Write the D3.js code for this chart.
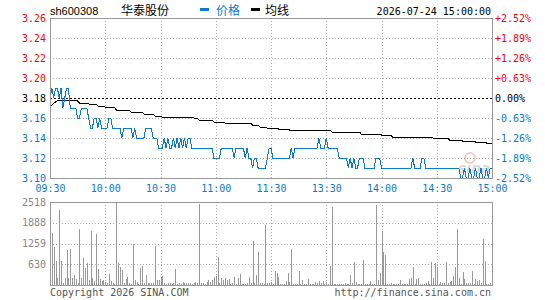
<!DOCTYPE html>
<html>
<head>
<meta charset="utf-8">
<script src="https://cdn.jsdelivr.net/npm/d3@7/dist/d3.min.js"></script>
<style>
  body { margin: 0; background: #fff; }
  svg { display: block; }
  .mono { font-family: "DejaVu Sans Mono", monospace; font-size: 10px; }
</style>
</head>
<body>
<div id="chart"></div>
<script>
// stock info
const stockCode = "sh600308";
const stockName = "华泰股份";
const stamp = "2026-07-24 15:00:00";
const prevClose = 3.18;

// minute axis labels (0..240 minutes of trading)
const timeTicks = [0, 30, 60, 90, 120, 150, 180, 210, 240];
const timeLabels = ["09:30", "10:00", "10:30", "11:00", "11:30", "13:30", "14:00", "14:30", "15:00"];

// price axis
const priceTicks = [3.10, 3.12, 3.14, 3.16, 3.18, 3.20, 3.22, 3.24, 3.26];
const pctLabels = ["-2.52%", "-1.89%", "-1.26%", "-0.63%", "0.00%", "+0.63%", "+1.26%", "+1.89%", "+2.52%"];

// volume axis
const volTicks = [630, 1259, 1888, 2518];

// price per minute
const price = [
  3.18,3.19,3.18,3.19,3.19,3.18,3.19,3.17,3.18,3.19,
  3.19,3.17,3.17,3.17,3.17,3.16,3.16,3.17,3.17,3.17,
  3.17,3.16,3.15,3.15,3.16,3.16,3.15,3.16,3.15,3.15,
  3.15,3.15,3.16,3.16,3.15,3.15,3.15,3.15,3.15,3.14,
  3.15,3.15,3.15,3.15,3.15,3.14,3.15,3.14,3.14,3.14,
  3.14,3.14,3.15,3.15,3.15,3.15,3.14,3.14,3.14,3.13,
  3.13,3.13,3.14,3.13,3.14,3.13,3.13,3.14,3.13,3.14,
  3.13,3.14,3.13,3.14,3.13,3.14,3.14,3.13,3.13,3.13,
  3.13,3.13,3.13,3.13,3.13,3.13,3.13,3.13,3.13,3.12,
  3.12,3.12,3.12,3.13,3.13,3.13,3.13,3.13,3.13,3.13,
  3.12,3.13,3.13,3.13,3.13,3.13,3.12,3.13,3.12,3.12,
  3.11,3.12,3.12,3.11,3.11,3.11,3.11,3.11,3.12,3.13,
  3.13,3.12,3.12,3.12,3.12,3.12,3.12,3.12,3.12,3.12,
  3.12,3.13,3.12,3.13,3.13,3.13,3.13,3.13,3.13,3.13,
  3.13,3.13,3.13,3.13,3.13,3.13,3.14,3.13,3.13,3.13,
  3.14,3.13,3.13,3.13,3.13,3.13,3.13,3.12,3.12,3.12,
  3.12,3.12,3.11,3.12,3.11,3.12,3.11,3.11,3.12,3.12,
  3.12,3.11,3.11,3.11,3.11,3.11,3.11,3.12,3.12,3.12,
  3.11,3.11,3.11,3.11,3.11,3.11,3.11,3.11,3.11,3.11,
  3.11,3.11,3.11,3.11,3.11,3.11,3.11,3.12,3.11,3.11,
  3.11,3.11,3.12,3.12,3.11,3.11,3.11,3.11,3.11,3.11,
  3.11,3.11,3.11,3.11,3.11,3.11,3.11,3.11,3.11,3.11,
  3.11,3.11,3.11,3.10,3.10,3.11,3.10,3.10,3.11,3.10,
  3.10,3.11,3.10,3.10,3.11,3.10,3.10,3.11,3.10,3.11,
  3.11
];

// average price per minute
const avgPrice = [
  3.170,3.173,3.175,3.176,3.177,3.178,3.178,3.178,3.178,3.178,
  3.178,3.178,3.178,3.178,3.178,3.177,3.175,3.175,3.175,3.175,
  3.175,3.174,3.174,3.174,3.174,3.174,3.172,3.172,3.172,3.172,
  3.171,3.171,3.171,3.171,3.171,3.171,3.168,3.168,3.168,3.168,
  3.168,3.168,3.168,3.168,3.166,3.166,3.166,3.166,3.166,3.166,
  3.166,3.164,3.164,3.164,3.164,3.164,3.164,3.162,3.162,3.162,
  3.162,3.161,3.161,3.161,3.161,3.161,3.161,3.161,3.161,3.161,
  3.161,3.161,3.161,3.161,3.161,3.161,3.161,3.161,3.160,3.160,
  3.160,3.158,3.158,3.158,3.158,3.158,3.158,3.158,3.158,3.156,
  3.156,3.156,3.156,3.156,3.156,3.155,3.155,3.155,3.155,3.155,
  3.155,3.155,3.155,3.155,3.155,3.155,3.155,3.155,3.155,3.155,
  3.153,3.153,3.153,3.153,3.151,3.151,3.151,3.151,3.150,3.150,
  3.150,3.150,3.150,3.150,3.149,3.149,3.149,3.149,3.149,3.149,
  3.148,3.148,3.148,3.148,3.148,3.148,3.148,3.148,3.148,3.148,
  3.148,3.148,3.148,3.148,3.148,3.148,3.148,3.148,3.148,3.148,
  3.148,3.148,3.148,3.146,3.146,3.146,3.146,3.146,3.146,3.146,
  3.146,3.146,3.146,3.146,3.146,3.146,3.146,3.146,3.146,3.144,
  3.144,3.144,3.144,3.144,3.144,3.144,3.144,3.144,3.144,3.144,
  3.143,3.143,3.143,3.143,3.143,3.143,3.141,3.141,3.141,3.141,
  3.141,3.141,3.141,3.141,3.141,3.141,3.141,3.141,3.141,3.141,
  3.141,3.141,3.141,3.141,3.141,3.141,3.141,3.141,3.140,3.140,
  3.140,3.140,3.140,3.140,3.140,3.140,3.140,3.138,3.138,3.138,
  3.138,3.138,3.138,3.138,3.137,3.137,3.137,3.137,3.137,3.137,
  3.137,3.136,3.136,3.136,3.136,3.136,3.136,3.135,3.135,3.135,
  3.135
];

// volume per minute (lots)
const volume = [
  755,1581,1158,735,201,2266,735,50,201,1057,
  201,1088,201,302,171,50,1692,201,816,524,
  655,151,1631,201,131,1561,483,171,131,151,
  100,50,332,131,70,40,2518,675,554,453,
  70,171,232,70,40,1259,151,100,40,524,
  574,70,302,50,50,70,50,1188,151,151,
  232,272,50,40,60,50,40,60,483,40,
  50,40,80,60,50,70,60,40,60,90,
  50,2447,50,60,40,80,151,100,151,232,
  272,856,60,201,151,201,151,171,40,50,
  232,40,201,332,40,30,40,50,232,60,
  1339,50,302,1007,50,50,30,1813,50,50,
  80,40,423,352,232,30,30,30,121,352,
  100,1088,30,30,40,423,30,151,30,30,
  171,30,30,40,100,50,121,70,131,30,
  100,30,574,2367,30,30,30,40,30,30,
  50,30,40,302,70,705,90,30,30,40,
  755,30,40,30,121,30,40,2417,151,373,
  1631,1007,906,30,30,50,30,40,30,30,
  151,30,30,30,30,171,201,554,40,171,
  201,40,30,30,50,121,30,705,222,655,
  554,30,100,60,70,705,60,100,121,272,
  554,1692,222,40,403,171,70,50,70,423,
  30,171,131,151,60,1410,725,30,40,50,
  60
];

const W = 545, H = 300;
const left = 50, right = 492;
const pTop = 18, pBottom = 178;
const vTop = 202, vBottom = 285;

const blue = "#0a7ad2", red = "#ff0000", grid = "#aaaaaa", frame = "#999999";

const svg = d3.select("#chart").append("svg")
  .attr("width", W).attr("height", H)
  .style("font-family", "'DejaVu Sans Mono', monospace");

const x = d3.scaleLinear().domain([0, 240]).range([left, right]);
const y = d3.scaleLinear().domain([3.10, 3.26]).range([pBottom, pTop]);
const vy = d3.scaleLinear().domain([0, 2518]).range([vBottom, vTop]);

function labelColor(p) {
  if (Math.abs(p - prevClose) < 1e-6) return "#000";
  return p > prevClose ? red : blue;
}

// ---- header ----
svg.append("text").attr("x", 50).attr("y", 15)
  .style("font-family", "'Liberation Sans', sans-serif").style("font-size", "11px")
  .attr("fill", "#000").text(stockCode);
svg.append("text").attr("x", 121).attr("y", 15)
  .style("font-family", "'Noto Sans CJK SC', sans-serif").style("font-size", "12px")
  .attr("fill", "#000").text(stockName);
svg.append("rect").attr("x", 200).attr("y", 8).attr("width", 9).attr("height", 3).attr("fill", blue);
svg.append("text").attr("x", 216).attr("y", 15)
  .style("font-family", "'Noto Sans CJK SC', sans-serif").style("font-size", "12px")
  .attr("fill", blue).text("价格");
svg.append("rect").attr("x", 251).attr("y", 8).attr("width", 9).attr("height", 3).attr("fill", "#000");
svg.append("text").attr("x", 265).attr("y", 15)
  .style("font-family", "'Noto Sans CJK SC', sans-serif").style("font-size", "12px")
  .attr("fill", "#000").text("均线");
svg.append("text").attr("class", "mono").attr("x", 491).attr("y", 15)
  .attr("text-anchor", "end").attr("fill", "#000").text(stamp);

// ---- price panel grid ----
const pg = svg.append("g").attr("shape-rendering", "crispEdges");
pg.selectAll(".hgrid")
  .data(priceTicks.filter(p => p > 3.10 && p < 3.26 && Math.abs(p - prevClose) > 1e-6))
  .enter().append("line")
  .attr("x1", left).attr("x2", right)
  .attr("y1", d => Math.round(y(d)) + 0.5).attr("y2", d => Math.round(y(d)) + 0.5)
  .attr("stroke", grid).attr("stroke-dasharray", "1,2");
pg.selectAll(".vgrid")
  .data(timeTicks.slice(1, -1))
  .enter().append("line")
  .attr("x1", d => Math.round(x(d)) + 0.5).attr("x2", d => Math.round(x(d)) + 0.5)
  .attr("y1", pTop).attr("y2", pBottom)
  .attr("stroke", grid).attr("stroke-dasharray", "1,2");
pg.append("line")
  .attr("x1", left).attr("x2", right)
  .attr("y1", y(prevClose) + 0.5).attr("y2", y(prevClose) + 0.5)
  .attr("stroke", "#000").attr("stroke-dasharray", "2,2");

// sina watermark
const wm = svg.append("g").attr("opacity", 0.3);
wm.append("circle").attr("cx", 470).attr("cy", 158).attr("r", 5).attr("fill", "none").attr("stroke", "#e05050").attr("stroke-width", 2);
wm.append("text").attr("x", 458).attr("y", 173)
  .style("font-family", "'DejaVu Sans', sans-serif").style("font-size", "14px")
  .style("font-weight", "bold").style("font-style", "italic")
  .attr("fill", "#888").text("sina");

// ---- lines ----
const line = d3.line().x((d, i) => x(i)).y(d => y(d));
svg.append("path").datum(avgPrice)
  .attr("d", line).attr("fill", "none").attr("stroke", "#000").attr("stroke-width", 1)
  .attr("shape-rendering", "crispEdges");
svg.append("path").datum(price)
  .attr("d", line).attr("fill", "none").attr("stroke", blue).attr("stroke-width", 1)
  .attr("shape-rendering", "crispEdges");

// frame
svg.append("path")
  .attr("d", `M${left + 0.5},${pTop + 0.5}H${right + 0.5}V${pBottom + 0.5}H${left + 0.5}Z`)
  .attr("fill", "none").attr("stroke", frame).attr("shape-rendering", "crispEdges");

// ---- price axes ----
const yl = svg.append("g").attr("transform", `translate(${left},0)`)
  .call(d3.axisLeft(y).tickValues(priceTicks).tickSize(0).tickPadding(4).tickFormat(d3.format(".2f")));
yl.select(".domain").remove();
yl.selectAll("text").attr("class", "mono").style("font-size", "10px")
  .attr("fill", d => labelColor(d));

const yr = svg.append("g").attr("transform", `translate(${right},0)`)
  .call(d3.axisRight(y).tickValues(priceTicks).tickSize(0).tickPadding(3)
    .tickFormat((d, i) => pctLabels[i]));
yr.select(".domain").remove();
yr.selectAll("text").attr("class", "mono").style("font-size", "10px")
  .attr("fill", d => labelColor(d));

const xa = svg.append("g").attr("transform", `translate(0,${pBottom})`)
  .call(d3.axisBottom(x).tickValues(timeTicks).tickSize(0).tickPadding(7)
    .tickFormat((d, i) => timeLabels[i]));
xa.select(".domain").remove();
xa.selectAll("text").attr("class", "mono").style("font-size", "10px").attr("fill", blue);

// ---- volume panel ----
const vg = svg.append("g").attr("shape-rendering", "crispEdges");
vg.selectAll(".vhgrid")
  .data(volTicks.slice(0, -1))
  .enter().append("line")
  .attr("x1", left).attr("x2", right)
  .attr("y1", d => Math.round(vy(d)) + 0.5).attr("y2", d => Math.round(vy(d)) + 0.5)
  .attr("stroke", grid).attr("stroke-dasharray", "1,2");
vg.selectAll(".vvgrid")
  .data(timeTicks.slice(1, -1))
  .enter().append("line")
  .attr("x1", d => Math.round(x(d)) + 0.5).attr("x2", d => Math.round(x(d)) + 0.5)
  .attr("y1", vTop).attr("y2", vBottom)
  .attr("stroke", grid).attr("stroke-dasharray", "1,2");

vg.selectAll(".bar")
  .data(volume)
  .enter().append("line")
  .attr("x1", (d, i) => Math.round(x(i)) + 0.5).attr("x2", (d, i) => Math.round(x(i)) + 0.5)
  .attr("y1", vy(0)).attr("y2", d => vy(d))
  .attr("stroke", "#999");

vg.append("path")
  .attr("d", `M${left + 0.5},${vTop + 0.5}H${right + 0.5}V${vBottom + 0.5}H${left + 0.5}Z`)
  .attr("fill", "none").attr("stroke", frame);

const va = svg.append("g").attr("transform", `translate(${left},0)`)
  .call(d3.axisLeft(vy).tickValues(volTicks).tickSize(0).tickPadding(4).tickFormat(d => d));
va.select(".domain").remove();
va.selectAll("text").attr("class", "mono").style("font-size", "10px").attr("fill", "#888");

// ---- footer ----
svg.append("text").attr("class", "mono").attr("x", 50).attr("y", 296)
  .attr("fill", "#555").text("Copyright 2026 SINA.COM");
svg.append("text").attr("class", "mono").attr("x", 491).attr("y", 296)
  .attr("text-anchor", "end").attr("fill", "#555").text("http://finance.sina.com.cn");
</script>
</body>
</html>
